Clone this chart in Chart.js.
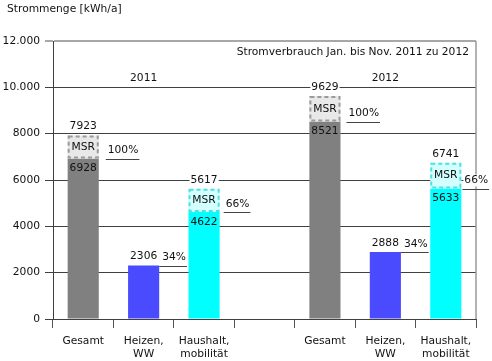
<!DOCTYPE html>
<html>
<head>
<meta charset="utf-8">
<script src="https://cdn.jsdelivr.net/npm/chart.js@4"></script>
<style>
html,body{margin:0;padding:0;background:#fff;}
#wrap{width:492px;height:361px;}
</style>
</head>
<body>
<div id="wrap"><canvas id="c"></canvas></div>
<script>
// ---- data ----
const categories = ['Gesamt', ['Heizen,', 'WW'], ['Haushalt,', 'mobilität'], '', 'Gesamt', ['Heizen,', 'WW'], ['Haushalt,', 'mobilität']];
const baseValues = [6928, 2306, 4622, null, 8521, 2888, 5633];
const msrTotals = [7923, null, 5617, null, 9629, null, 6741];
const percentLabels = ['100%', '34%', '66%', null, '100%', '34%', '66%'];
const groupLabels = ['2011', '2012'];
const groupCategoryIndex = [1, 5];
const yTickValues = [0, 2000, 4000, 6000, 8000, 10000, 12000];
const yTickLabels = ['0', '2000', '4000', '6000', '8000', '10.000', '12.000'];
const chartTitle = 'Stromverbrauch Jan. bis Nov. 2011 zu 2012';
const yAxisTitle = 'Strommenge [kWh/a]';

// ---- styles ----
const barColors = ['#808080', '#4a4aff', '#00ffff', null, '#808080', '#4a4aff', '#00ffff'];
const msrFill = ['#e8e8e8', null, '#d2ffff', null, '#e8e8e8', null, '#d2ffff'];
const msrBorder = ['#9a9a9a', null, '#4ee0e0', null, '#9a9a9a', null, '#4ee0e0'];
const pctGap = [9, 3, 6, 0, 8, 3, 3];
const FSIZE = 10.7;
const FONT = FSIZE + 'px "DejaVu Sans"';
const TEXT = '#111';

const annot = {
  id: 'annot',
  beforeDatasetsDraw(chart) {
    const ctx = chart.ctx, a = chart.chartArea;
    ctx.save();
    ctx.strokeStyle = '#9a9a9a';
    ctx.lineWidth = 1.5;
    ctx.beginPath();
    ctx.moveTo(a.right, a.top);
    ctx.lineTo(a.right, a.bottom);
    ctx.stroke();
    ctx.restore();
  },
  afterDatasetsDraw(chart) {
    const ctx = chart.ctx, a = chart.chartArea;
    const ys = chart.scales.y, xs = chart.scales.x;
    const baseMeta = chart.getDatasetMeta(0);
    const msrMeta = chart.getDatasetMeta(1);
    ctx.save();
    ctx.font = FONT;
    ctx.textBaseline = 'middle';

    // dashed MSR borders
    msrMeta.data.forEach((el, i) => {
      if (msrTotals[i] == null) return;
      const p = el.getProps(['x', 'y', 'base', 'width'], true);
      ctx.setLineDash([4, 3]);
      ctx.lineWidth = 2;
      ctx.strokeStyle = msrBorder[i];
      ctx.strokeRect(p.x - p.width / 2 + 1, p.y + 1, p.width - 2, p.base - p.y - 2);
    });
    ctx.setLineDash([]);

    const label = (txt, x, y, align, bg) => {
      ctx.textAlign = align;
      const w = ctx.measureText(txt).width;
      let left = align === 'center' ? x - w / 2 : (align === 'right' ? x - w : x);
      if (bg) {
        ctx.fillStyle = bg;
        ctx.fillRect(left - 1, y - 6, w + 2, 12);
      }
      ctx.fillStyle = TEXT;
      ctx.fillText(txt, x, y);
      return {left, right: left + w};
    };

    baseMeta.data.forEach((el, i) => {
      if (baseValues[i] == null) return;
      const p = el.getProps(['x', 'y', 'width'], true);
      const baseTop = p.y;
      const right = p.x + p.width / 2;
      const hasMsr = msrTotals[i] != null;
      const topVal = hasMsr ? msrTotals[i] : baseValues[i];
      const topPx = ys.getPixelForValue(topVal);
      // top value
      label(String(topVal), p.x, topPx - 9, 'center', '#fff');
      if (hasMsr) {
        const midMsr = (topPx + baseTop) / 2;
        label('MSR', p.x, midMsr, 'center', msrFill[i]);
        label(String(baseValues[i]), p.x, baseTop + 10, 'center', null);
      }
      // percent
      if (percentLabels[i]) {
        const r = label(percentLabels[i], right + pctGap[i], baseTop - 8, 'left', '#fff');
        ctx.strokeStyle = '#444';
        ctx.lineWidth = 1;
        ctx.beginPath();
        const startX = hasMsr ? r.left - 2 : right;
        ctx.moveTo(startX, Math.round(baseTop) + 0.5);
        ctx.lineTo(r.right + 1, Math.round(baseTop) + 0.5);
        ctx.stroke();
      }
    });

    // group labels
    groupLabels.forEach((g, k) => {
      const x = xs.getPixelForValue(groupCategoryIndex[k]);
      label(g, x, a.top + 37, 'center', null);
    });
    // title inside plot
    label(chartTitle, a.right - 7, a.top + 11, 'right', null);
    // axis title
    label(yAxisTitle, 7, 9, 'left', null);
    ctx.restore();
  }
};

new Chart(document.getElementById('c'), {
  type: 'bar',
  data: {
    labels: categories,
    datasets: [
      {
        data: baseValues,
        backgroundColor: barColors,
        borderWidth: 0,
        categoryPercentage: 1,
        barPercentage: 0.515,
        grouped: false,
        order: 2
      },
      {
        data: msrTotals.map((t, i) => t == null ? null : [baseValues[i], t]),
        backgroundColor: msrFill,
        borderWidth: 0,
        categoryPercentage: 1,
        barPercentage: 0.515,
        grouped: false,
        order: 1
      }
    ]
  },
  options: {
    responsive: true,
    maintainAspectRatio: false,
    animation: false,
    layout: {padding: {top: 41, right: 16, left: 0, bottom: 0}},
    plugins: {legend: {display: false}, tooltip: {enabled: false}, title: {display: false}},
    scales: {
      x: {
        offset: true,
        grid: {
          offset: true,
          drawOnChartArea: false,
          drawTicks: true,
          tickLength: 9,
          color: '#555',
          lineWidth: 1
        },
        border: {color: '#404040', width: 1},
        ticks: {
          font: {family: 'DejaVu Sans', size: FSIZE},
          color: TEXT,
          padding: 7,
          maxRotation: 0,
          autoSkip: false
        },
        afterFit: s => { s.height = 42; }
      },
      y: {
        min: 0,
        max: 12000,
        afterBuildTicks: s => { s.ticks = yTickValues.map(v => ({value: v})); },
        grid: {
          color: c => (c.tick && c.tick.value === 12000) ? '#a8a8a8' : '#404040',
          lineWidth: c => (c.tick && c.tick.value === 12000) ? 2 : 1,
          tickLength: 8,
          drawTicks: true
        },
        border: {color: '#404040', width: 1},
        ticks: {
          font: {family: 'DejaVu Sans', size: FSIZE},
          color: TEXT,
          padding: 5,
          callback: (v) => { const k = yTickValues.indexOf(v); return k >= 0 ? yTickLabels[k] : ''; }
        },
        afterFit: s => { s.width = 53; }
      }
    }
  },
  plugins: [annot]
});
</script>
</body>
</html>
